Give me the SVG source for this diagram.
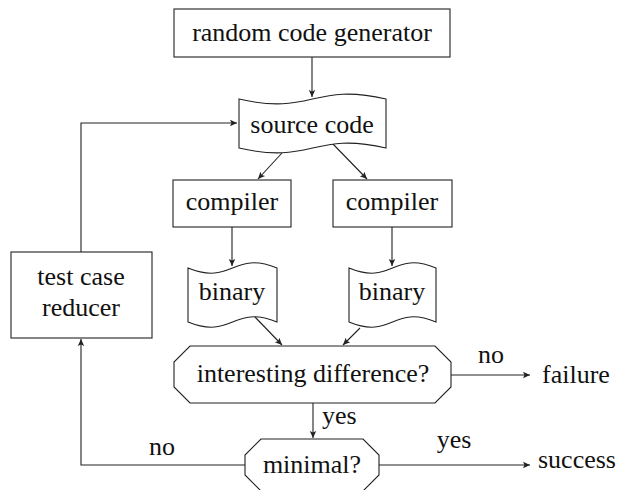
<svg xmlns="http://www.w3.org/2000/svg" width="618" height="490" viewBox="0 0 618 490">
<defs>
<style>
.n{fill:#fff;stroke:#222;stroke-width:1.1}
.t{font-size:26px;fill:#111;text-anchor:middle}
.l{font-size:26px;fill:#111}
.c{fill:none;stroke:#222;stroke-width:1.1}
</style>
<marker id="a" markerUnits="userSpaceOnUse" markerWidth="10" markerHeight="10" refX="7" refY="5" orient="auto">
<path d="M0,1.8 L7,5 L0,8.2 L1.5,5 Z" fill="#222"/>
</marker>
</defs>
<rect width="618" height="490" fill="#fff"/>
<g id="connectors">
<path class="c" d="M312,57 L312,97" marker-end="url(#a)"/>
<path class="c" d="M282,153 L258,179" marker-end="url(#a)"/>
<path class="c" d="M332,143 L367,179" marker-end="url(#a)"/>
<path class="c" d="M232,227 L232,266" marker-end="url(#a)"/>
<path class="c" d="M392,227 L392,266" marker-end="url(#a)"/>
<path class="c" d="M255,317 L282,345" marker-end="url(#a)"/>
<path class="c" d="M360,328 L343,345" marker-end="url(#a)"/>
<path class="c" d="M313,403 L313,438" marker-end="url(#a)"/>
<path class="c" d="M451,375 L530,375" marker-end="url(#a)"/>
<path class="c" d="M379,465 L530,465" marker-end="url(#a)"/>
<path class="c" d="M245,465 L81,465 L81,339" marker-end="url(#a)"/>
<path class="c" d="M81,252 L81,123 L237,123" marker-end="url(#a)"/>
<text class="l" style="font-family:'Liberation Serif',serif" x="322" y="424">yes</text>
<text class="t" style="font-family:'Liberation Serif',serif" x="491" y="363">no</text>
<text class="t" style="font-family:'Liberation Serif',serif" x="454" y="448">yes</text>
<text class="t" style="font-family:'Liberation Serif',serif" x="162" y="455">no</text>
</g>
<g id="generator">
<rect class="n" x="174" y="9" width="276" height="48"/>
<text class="t" style="font-family:'Liberation Serif',serif" x="312" y="41">random code generator</text>
</g>
<g id="source">
<path class="n" d="M239,99 C312.5,116 312.5,82 386,99 L386,148 C312.5,131 312.5,165 239,148 Z"/>
<text class="t" style="font-family:'Liberation Serif',serif" x="312" y="133">source code</text>
</g>
<g id="compiler1">
<rect class="n" x="173" y="180" width="118" height="47"/>
<text class="t" style="font-family:'Liberation Serif',serif" x="232" y="210">compiler</text>
</g>
<g id="compiler2">
<rect class="n" x="333" y="180" width="119" height="47"/>
<text class="t" style="font-family:'Liberation Serif',serif" x="392" y="210">compiler</text>
</g>
<g id="binary1">
<path class="n" d="M188,268 C232.5,286 232.5,250 277,268 L277,322 C232.5,304 232.5,340 188,322 Z"/>
<text class="t" style="font-family:'Liberation Serif',serif" x="232" y="300">binary</text>
</g>
<g id="binary2">
<path class="n" d="M349,268 C392.5,286 392.5,250 436,268 L436,322 C392.5,304 392.5,340 349,322 Z"/>
<text class="t" style="font-family:'Liberation Serif',serif" x="392" y="300">binary</text>
</g>
<g id="reducer">
<rect class="n" x="11" y="252" width="141" height="86"/>
<text class="t" style="font-family:'Liberation Serif',serif" x="81" y="285">test case</text>
<text class="t" style="font-family:'Liberation Serif',serif" x="81" y="316">reducer</text>
</g>
<g id="difference">
<polygon class="n" points="190,346 435,346 451,362 451,387 435,403 190,403 174,387 174,362"/>
<text class="t" style="font-family:'Liberation Serif',serif" x="313" y="382">interesting difference?</text>
</g>
<g id="minimal">
<polygon class="n" points="261,439 363,439 379,455 379,475 363,491 261,491 245,475 245,455"/>
<text class="t" style="font-family:'Liberation Serif',serif" x="312" y="473">minimal?</text>
</g>
<g id="failure">
<text class="l" style="font-family:'Liberation Serif',serif" x="542" y="383">failure</text>
</g>
<g id="success">
<text class="l" style="font-family:'Liberation Serif',serif" x="538" y="468">success</text>
</g>
</svg>
